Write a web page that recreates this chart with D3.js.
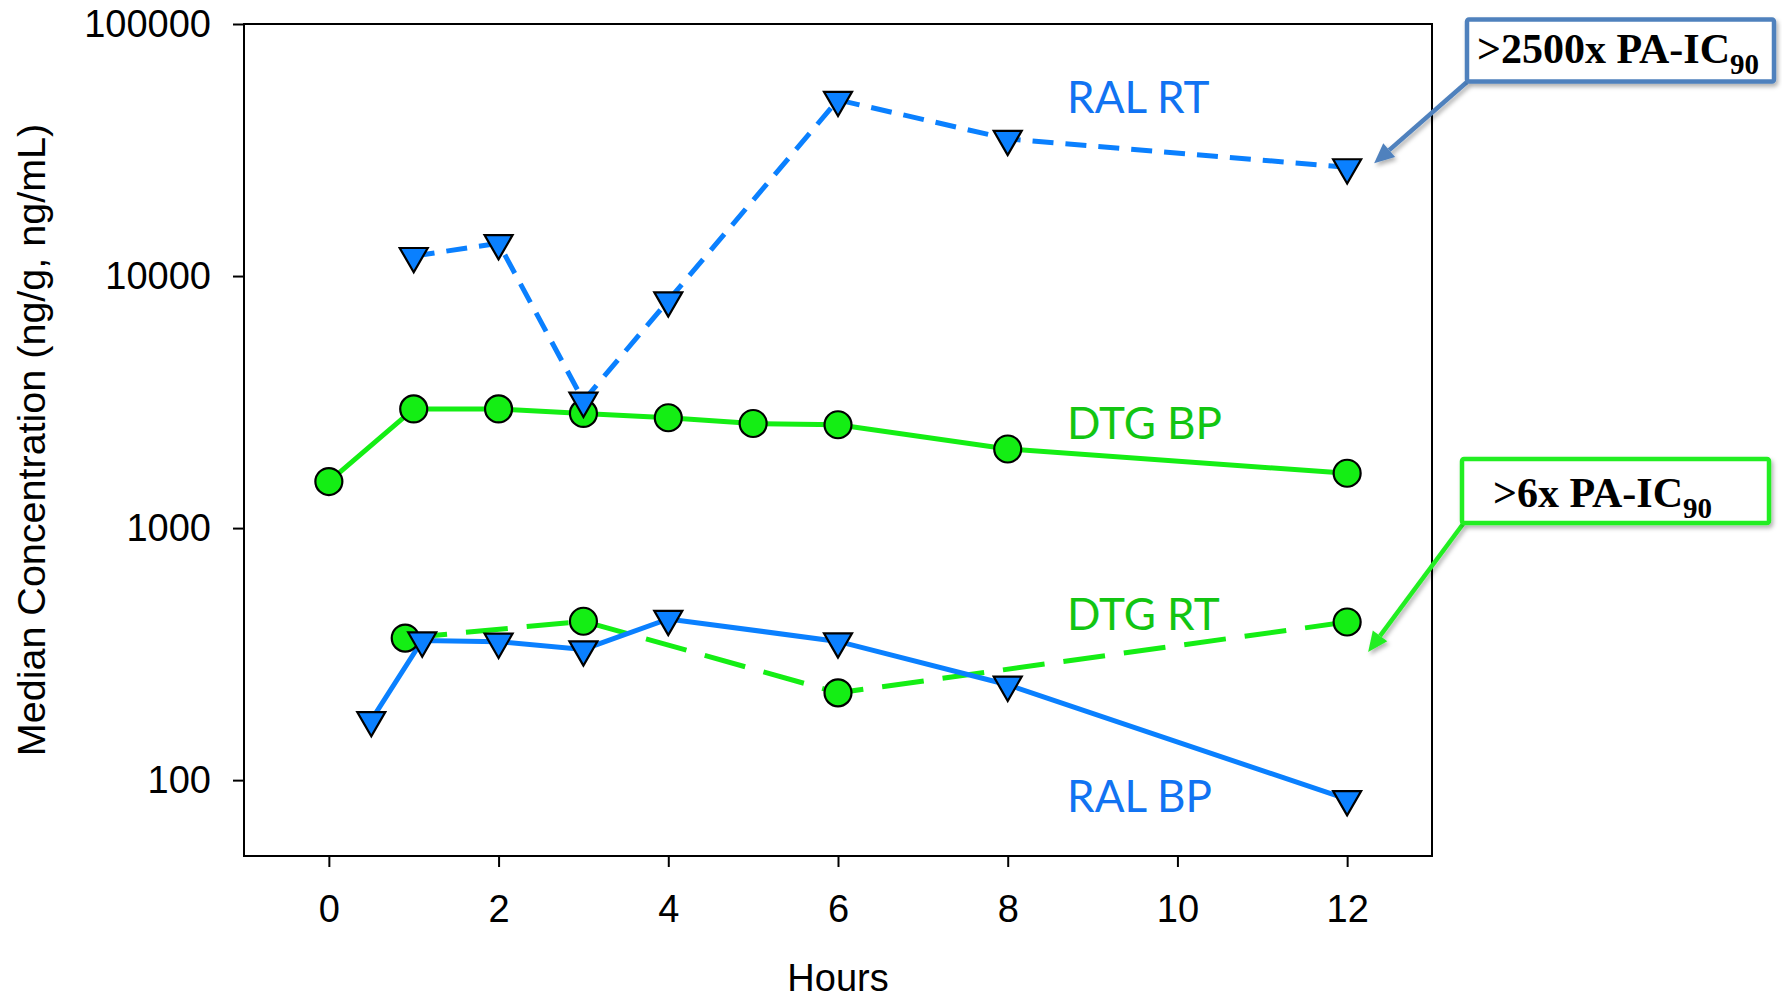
<!DOCTYPE html>
<html>
<head>
<meta charset="utf-8">
<script src="https://cdn.jsdelivr.net/npm/d3@7"></script>
<style>
  body { margin: 0; background: #fff; }
  svg { display: block; }
</style>
</head>
<body>
<svg id="chart" width="1782" height="1003"></svg>
<script>
// Median concentrations over time (hours)
const hoursRalRT = [1, 2, 3, 4, 6, 8, 12];
const ralRT      = [12000, 13500, 3200, 8000, 50000, 35000, 27000];

const hoursDtgBP = [0, 1, 2, 3, 4, 5, 6, 8, 12];
const dtgBP      = [1530, 2970, 2970, 2850, 2740, 2600, 2570, 2060, 1650];

const hoursDtgRT = [0.9, 3, 6, 12];
const dtgRT      = [366, 427, 222, 424];

const hoursRalBP = [0.5, 1.1, 2, 3, 4, 6, 8, 12];
const ralBP      = [173, 358, 354, 330, 436, 355, 239, 84];

const xTicks = [0, 2, 4, 6, 8, 10, 12];
const yTicks = [100, 1000, 10000, 100000];

const seriesNames = ["DTG BP", "DTG RT", "RAL BP", "RAL RT"];
const calloutTexts = [">2500x PA-IC", ">6x PA-IC"];
const calloutSub = "90";

const BLUE = "#0a80ff", GREEN = "#14ee14";
const BLUE_TXT = "#1173f2", GREEN_TXT = "#12c512";

const svg = d3.select("#chart");
const L = 244, R = 1432, T = 24, B = 856;

const x = d3.scaleLinear().domain([-1, 13]).range([L, R]);
const y = d3.scaleLog().domain([50, 100000]).range([B, T]);

const defs = svg.append("defs");
const shadow = defs.append("filter").attr("id", "shadow")
  .attr("x", "-20%").attr("y", "-20%").attr("width", "140%").attr("height", "160%");
shadow.append("feDropShadow").attr("dx", 2).attr("dy", 3)
  .attr("stdDeviation", 2).attr("flood-color", "#000").attr("flood-opacity", 0.3);

// axes
const axisFont = "'Liberation Sans', Arial, sans-serif";
const gx = svg.append("g").attr("transform", `translate(0,${B})`)
  .call(d3.axisBottom(x).tickValues(xTicks).tickSize(11).tickPadding(28).tickFormat(d3.format("d")));
const gy = svg.append("g").attr("transform", `translate(${L},0)`)
  .call(d3.axisLeft(y).tickValues(yTicks).tickSize(11).tickPadding(22).tickFormat(d3.format("d")));
[gx, gy].forEach(g => {
  g.select(".domain").remove();
  g.selectAll(".tick line").attr("stroke", "#000").attr("stroke-width", 2);
  g.selectAll(".tick text").attr("fill", "#000")
    .style("font-family", axisFont).style("font-size", "38px");
});

// plot frame
svg.append("rect").attr("x", L).attr("y", T).attr("width", R - L).attr("height", B - T)
  .attr("fill", "none").attr("stroke", "#000").attr("stroke-width", 2);

// axis titles
svg.append("text").attr("x", (x(0) + x(12)) / 2).attr("y", 991)
  .attr("text-anchor", "middle").style("font-family", axisFont).style("font-size", "38px")
  .text("Hours");
svg.append("text").attr("transform", `translate(45,440) rotate(-90)`)
  .attr("text-anchor", "middle").style("font-family", axisFont).style("font-size", "39.5px")
  .text("Median Concentration (ng/g, ng/mL)");

const series = [
  { name: seriesNames[0], xs: hoursDtgBP, ys: dtgBP, color: GREEN, dash: null,   shape: "circle" },
  { name: seriesNames[1], xs: hoursDtgRT, ys: dtgRT, color: GREEN, dash: "42,19", shape: "circle" },
  { name: seriesNames[2], xs: hoursRalBP, ys: ralBP, color: BLUE,  dash: null,   shape: "triangle" },
  { name: seriesNames[3], xs: hoursRalRT, ys: ralRT, color: BLUE,  dash: "21,12", shape: "triangle" }
];

const line = d3.line().x(d => x(d[0])).y(d => y(d[1]));
const tri = d3.symbol(d3.symbolTriangle, 340)();

series.forEach(s => {
  const pts = s.xs.map((h, i) => [h, s.ys[i]]);
  svg.append("path").datum(pts).attr("d", line)
    .attr("fill", "none").attr("stroke", s.color).attr("stroke-width", 5)
    .attr("stroke-dasharray", s.dash);
});

series.forEach(s => {
  const pts = s.xs.map((h, i) => [h, s.ys[i]]);
  const g = svg.append("g");
  if (s.shape === "circle") {
    g.selectAll("circle").data(pts).join("circle")
      .attr("cx", d => x(d[0])).attr("cy", d => y(d[1])).attr("r", 13.5)
      .attr("fill", s.color).attr("stroke", "#000").attr("stroke-width", 2.2);
  } else {
    g.selectAll("path").data(pts).join("path").attr("d", tri)
      .attr("transform", d => `translate(${x(d[0])},${y(d[1])}) rotate(180)`)
      .attr("fill", s.color).attr("stroke", "#000").attr("stroke-width", 2.2)
      .attr("stroke-linejoin", "miter");
  }
});

// series labels
const labelFont = "Lato, 'Open Sans', sans-serif";
const labels = [
  { text: seriesNames[3], yb: 113, color: BLUE_TXT },
  { text: seriesNames[0], yb: 439, color: GREEN_TXT },
  { text: seriesNames[1], yb: 630, color: GREEN_TXT },
  { text: seriesNames[2], yb: 812, color: BLUE_TXT }
];
svg.selectAll("text.lbl").data(labels).join("text").attr("class", "lbl")
  .attr("x", x(8.7)).attr("y", d => d.yb).attr("fill", d => d.color)
  .style("font-family", labelFont).style("font-size", "44px").text(d => d.text);

// callouts
const callouts = [
  { text: calloutTexts[0], box: [1467, 19.5, 307, 62], tx: 1477, ty: 63, stroke: "#4f81bd",
    from: [1467, 82], tip: [x(12) + 27, y(ralRT[6]) - 4] },
  { text: calloutTexts[1], box: [1462, 459, 307, 64], tx: 1493, ty: 507, stroke: "#22ee22",
    from: [1463, 524], tip: [x(12) + 21, y(dtgRT[3]) + 30] }
];
const serif = "'Liberation Serif', 'Times New Roman', serif";
callouts.forEach(c => {
  // arrow
  const [x1, y1] = c.from, [x2, y2] = c.tip;
  const ang = Math.atan2(y2 - y1, x2 - x1);
  const hl = 20, hw = 9;
  const bx = x2 - hl * Math.cos(ang), by = y2 - hl * Math.sin(ang);
  const ag = svg.append("g").attr("filter", "url(#shadow)");
  ag.append("line").attr("x1", x1).attr("y1", y1).attr("x2", bx).attr("y2", by)
    .attr("stroke", c.stroke).attr("stroke-width", 4.5);
  ag.append("polygon").attr("points", [
    [x2, y2],
    [bx + hw * Math.sin(ang), by - hw * Math.cos(ang)],
    [bx - hw * Math.sin(ang), by + hw * Math.cos(ang)]
  ].map(p => p.join(",")).join(" ")).attr("fill", c.stroke);

  svg.append("rect").attr("x", c.box[0]).attr("y", c.box[1])
    .attr("width", c.box[2]).attr("height", c.box[3]).attr("rx", 2)
    .attr("fill", "#fff").attr("stroke", c.stroke).attr("stroke-width", 4.5)
    .attr("filter", "url(#shadow)");
  const t = svg.append("text").attr("x", c.tx).attr("y", c.ty)
    .style("font-family", serif).style("font-weight", "bold").style("font-size", "42px")
    .attr("fill", "#000");
  t.append("tspan").text(c.text);
  t.append("tspan").attr("dy", 11).style("font-size", "29px").text(calloutSub);
});
</script>
</body>
</html>
